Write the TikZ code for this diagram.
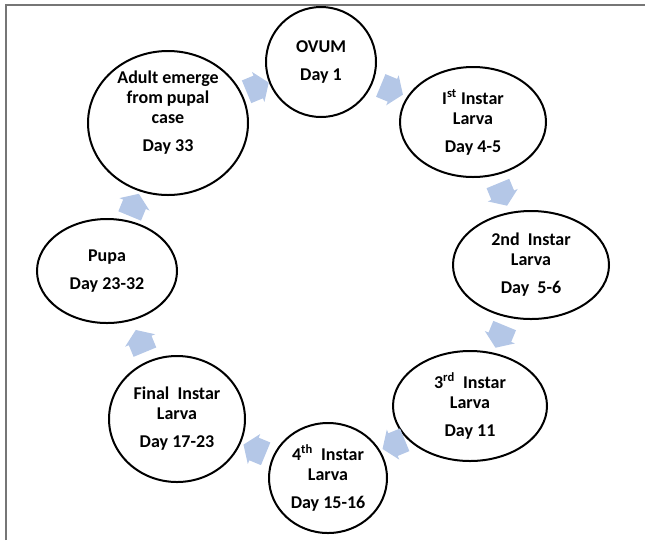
\documentclass[tikz,border=0pt]{standalone}
\usepackage{fontspec}
\setmainfont{Carlito}
\usepackage{tikz}
\usetikzlibrary{shapes.geometric, shapes.arrows, calc}
\definecolor{framegray}{RGB}{118, 118, 118}
\definecolor{cycleblue}{RGB}{180, 199, 231}

\begin{document}
\begin{tikzpicture}[x=0.75pt, y=-0.75pt,
    stagetext/.style={align=center, inner sep=0pt, font=\bfseries\fontsize{13.5}{15}\selectfont},
    stage/.style={stagetext, ellipse, draw, line width=1.5pt},
    flow/.style={single arrow, fill=cycleblue, draw=none, inner xsep=0pt, inner ysep=9pt,
        minimum height=18pt, single arrow head extend=3pt, single arrow tip angle=110}]
    \useasboundingbox (0,0) rectangle (645,540);

    % frame
    \draw[framegray, line width=1.5pt] (6,540) -- (6,5) -- (645,5);

    % stages
    \node[stage, minimum width=82.5pt, minimum height=82.5pt] (ovum) at (321,62) {OVUM\\[6pt]Day 1};
    \node[stage, minimum width=109.5pt, minimum height=82.5pt] (larva1) at (473,122) {I\textsuperscript{st} Instar\\Larva\\[6pt]Day 4-5};
    \node[stage, minimum width=117pt, minimum height=81pt] (larva2) at (531,265) {2nd~ Instar\\Larva\\[6pt]Day~ 5-6};
    \node[stage, minimum width=115.5pt, minimum height=82.5pt] (larva3) at (470,406) {3\textsuperscript{rd}~ Instar\\Larva\\[6pt]Day 11};
    \node[stage, minimum width=88.5pt, minimum height=82.5pt] (larva4) at (328,478) {4\textsuperscript{th}~ Instar\\Larva\\[6pt]Day 15-16};
    \node[stage, minimum width=102pt, minimum height=94.5pt] (larvaf) at (177,419) {Final~ Instar\\Larva\\[6pt]Day 17-23};
    \node[stage, minimum width=105pt, minimum height=78pt] (pupa) at (107,271) {Pupa\\[6pt]Day 23-32};
    \node[stage, minimum width=120pt, minimum height=108pt] (adult) at (168,123) {};
    \node[stagetext] (adulttext) at (168,113) {Adult emerge\\from pupal\\case\\[6pt]Day 33};

    % cycle arrows
    \foreach \a/\b/\t/\r in {adult/ovum/0.56/22.5, ovum/larva1/0.44/-22.5,
        larva1/larva2/0.48/-67.5, larva2/larva3/0.48/-112.5,
        larva3/larva4/0.51/-157.5, larva4/larvaf/0.46/157.5,
        larvaf/pupa/0.5/112.5, pupa/adult/0.42/67.5}
        \node[flow, rotate=\r] (\a-\b) at ($(\a)!\t!(\b)$) {};
\end{tikzpicture}
\end{document}
